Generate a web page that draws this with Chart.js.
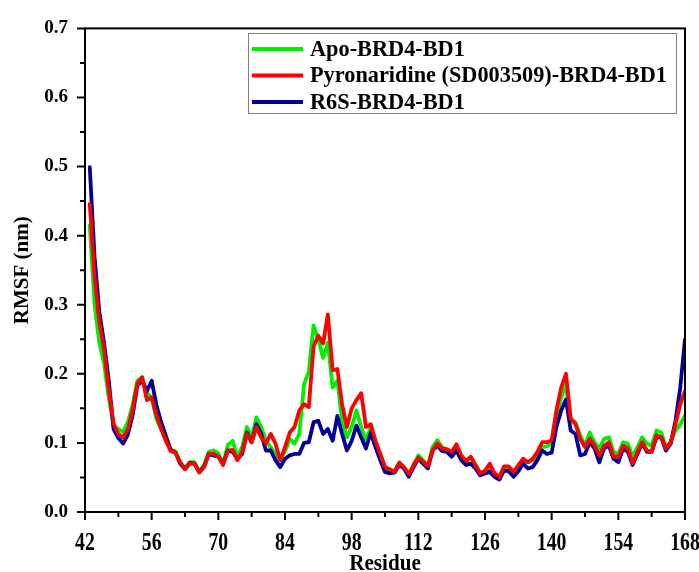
<!DOCTYPE html>
<html><head><meta charset="utf-8">
<script src="https://cdn.jsdelivr.net/npm/chart.js@4.4.1/dist/chart.umd.min.js"></script>
<style>html,body{margin:0;padding:0;background:#fff;} #wrap{width:699px;height:572px;}</style>
</head><body><div id="wrap"><canvas id="c" width="699" height="572"></canvas></div>
<script>
const residues = [43,44,45,46,47,48,49,50,51,52,53,54,55,56,57,58,59,60,61,62,63,64,65,66,67,68,69,70,71,72,73,74,75,76,77,78,79,80,81,82,83,84,85,86,87,88,89,90,91,92,93,94,95,96,97,98,99,100,101,102,103,104,105,106,107,108,109,110,111,112,113,114,115,116,117,118,119,120,121,122,123,124,125,126,127,128,129,130,131,132,133,134,135,136,137,138,139,140,141,142,143,144,145,146,147,148,149,150,151,152,153,154,155,156,157,158,159,160,161,162,163,164,165,166,167,168];
const apo = [0.415,0.300,0.245,0.215,0.165,0.125,0.120,0.116,0.130,0.155,0.190,0.195,0.172,0.165,0.135,0.120,0.103,0.090,0.088,0.072,0.063,0.072,0.072,0.058,0.068,0.087,0.089,0.085,0.070,0.097,0.103,0.080,0.094,0.123,0.108,0.137,0.123,0.103,0.094,0.084,0.075,0.088,0.106,0.099,0.113,0.185,0.204,0.270,0.250,0.223,0.245,0.180,0.190,0.132,0.108,0.123,0.147,0.123,0.103,0.123,0.099,0.084,0.065,0.060,0.058,0.072,0.065,0.053,0.068,0.082,0.075,0.067,0.094,0.104,0.094,0.090,0.084,0.096,0.080,0.070,0.080,0.068,0.056,0.058,0.065,0.053,0.048,0.063,0.064,0.053,0.065,0.077,0.072,0.075,0.082,0.094,0.095,0.100,0.135,0.166,0.183,0.135,0.130,0.111,0.096,0.115,0.101,0.092,0.106,0.108,0.087,0.084,0.101,0.099,0.080,0.094,0.108,0.099,0.096,0.118,0.115,0.094,0.101,0.118,0.127,0.140];
const pyronaridine = [0.446,0.340,0.275,0.235,0.175,0.128,0.113,0.108,0.120,0.148,0.186,0.195,0.162,0.166,0.140,0.120,0.103,0.088,0.086,0.072,0.062,0.070,0.070,0.057,0.065,0.084,0.084,0.080,0.068,0.089,0.090,0.075,0.087,0.113,0.101,0.123,0.108,0.099,0.113,0.099,0.075,0.094,0.115,0.123,0.147,0.156,0.152,0.240,0.255,0.244,0.286,0.205,0.207,0.155,0.123,0.150,0.162,0.172,0.123,0.127,0.103,0.084,0.065,0.062,0.058,0.071,0.065,0.055,0.068,0.079,0.073,0.066,0.089,0.099,0.092,0.091,0.087,0.098,0.082,0.074,0.080,0.068,0.056,0.060,0.070,0.056,0.051,0.066,0.066,0.058,0.068,0.077,0.072,0.077,0.087,0.101,0.101,0.104,0.147,0.180,0.200,0.135,0.127,0.106,0.094,0.106,0.096,0.082,0.096,0.101,0.080,0.080,0.096,0.092,0.070,0.087,0.101,0.089,0.087,0.111,0.108,0.092,0.101,0.127,0.156,0.175];
const r6s = [0.499,0.370,0.290,0.245,0.190,0.120,0.107,0.099,0.112,0.140,0.183,0.190,0.175,0.190,0.155,0.130,0.110,0.090,0.086,0.070,0.062,0.071,0.070,0.058,0.066,0.084,0.082,0.080,0.070,0.089,0.087,0.077,0.084,0.115,0.101,0.127,0.113,0.089,0.089,0.075,0.065,0.077,0.082,0.084,0.084,0.100,0.101,0.130,0.132,0.113,0.120,0.103,0.139,0.113,0.089,0.103,0.125,0.108,0.092,0.115,0.094,0.075,0.058,0.056,0.057,0.068,0.063,0.051,0.065,0.077,0.070,0.063,0.089,0.096,0.088,0.087,0.080,0.089,0.075,0.068,0.070,0.063,0.053,0.056,0.058,0.051,0.047,0.060,0.059,0.051,0.059,0.070,0.063,0.065,0.075,0.089,0.084,0.086,0.123,0.147,0.163,0.118,0.113,0.082,0.084,0.101,0.092,0.072,0.092,0.096,0.077,0.072,0.092,0.087,0.068,0.084,0.099,0.087,0.087,0.108,0.108,0.089,0.099,0.132,0.180,0.250];
const seriesNames = ['Apo-BRD4-BD1', 'Pyronaridine (SD003509)-BRD4-BD1', 'R6S-BRD4-BD1'];
const seriesColors = ['#00ee00', '#ff0000', '#000099'];
const xTicks = [42, 56, 70, 84, 98, 112, 126, 140, 154, 168];
const yTicks = [0.0, 0.1, 0.2, 0.3, 0.4, 0.5, 0.6, 0.7];
const xTitle = 'Residue';
const yTitle = 'RMSF (nm)';

const SERIF = '"Liberation Serif", "Times New Roman", serif';

function pts(vals) { return residues.map((r, i) => ({x: r, y: vals[i]})); }

// draws a text horizontally condensed (the reference x-axis texts are tall and narrow)
function condensedText(ctx, text, cx, baseY, size, sx) {
  ctx.save();
  ctx.font = 'bold ' + size + 'px ' + SERIF;
  ctx.textAlign = 'center';
  ctx.textBaseline = 'alphabetic';
  ctx.translate(cx, baseY);
  ctx.scale(sx, 1);
  ctx.fillStyle = '#000';
  ctx.fillText(text, 0, 0);
  ctx.restore();
}

const framePlugin = {
  id: 'frame',
  afterDraw(chart) {
    const {ctx, chartArea: a, scales: {x, y}} = chart;
    ctx.save();
    ctx.strokeStyle = '#000';
    ctx.lineWidth = 2;
    ctx.strokeRect(a.left, a.top, a.right - a.left, a.bottom - a.top);
    ctx.beginPath();
    for (let i = 0; i < xTicks.length; i++) {
      const px = x.getPixelForValue(xTicks[i]);
      ctx.moveTo(px, a.bottom); ctx.lineTo(px, a.bottom + 8);
      if (i < xTicks.length - 1) {
        const pm = x.getPixelForValue((xTicks[i] + xTicks[i + 1]) / 2);
        ctx.moveTo(pm, a.bottom); ctx.lineTo(pm, a.bottom + 5);
      }
    }
    for (let i = 0; i < yTicks.length; i++) {
      const py = y.getPixelForValue(yTicks[i]);
      ctx.moveTo(a.left, py); ctx.lineTo(a.left - 8, py);
      if (i < yTicks.length - 1) {
        const pm = y.getPixelForValue((yTicks[i] + yTicks[i + 1]) / 2);
        ctx.moveTo(a.left, pm); ctx.lineTo(a.left - 5, pm);
      }
    }
    ctx.stroke();

    // x tick labels and title (condensed like the reference)
    x.ticks.forEach(t => {
      condensedText(ctx, String(t.value), x.getPixelForValue(t.value), a.bottom + 38, 26, 0.76);
    });
    condensedText(ctx, xTitle, (a.left + a.right) / 2, 570, 24, 0.88);

    // legend box
    const bx = 248, by = 33, bw = 428, bh = 80;
    ctx.fillStyle = '#fff';
    ctx.fillRect(bx, by, bw, bh);
    ctx.strokeStyle = '#808080';
    ctx.lineWidth = 1;
    ctx.strokeRect(bx + 0.5, by + 0.5, bw, bh);
    ctx.font = 'bold 22.3px ' + SERIF;
    ctx.textBaseline = 'middle';
    ctx.textAlign = 'left';
    [0, 1, 2].forEach((idx, k) => {
      const ds = chart.data.datasets[idx];
      const yy = 49 + k * 26.5;
      ctx.strokeStyle = ds.borderColor;
      ctx.lineWidth = 4;
      ctx.beginPath();
      ctx.moveTo(252, yy); ctx.lineTo(303, yy);
      ctx.stroke();
      ctx.fillStyle = '#000';
      ctx.fillText(ds.label, 310, yy + 1);
    });
    ctx.restore();
  }
};

new Chart(document.getElementById('c'), {
  type: 'line',
  data: {
    datasets: [
      {label: seriesNames[0], data: pts(apo), borderColor: seriesColors[0], order: 2},
      {label: seriesNames[1], data: pts(pyronaridine), borderColor: seriesColors[1], order: 0},
      {label: seriesNames[2], data: pts(r6s), borderColor: seriesColors[2], order: 1}
    ]
  },
  options: {
    responsive: false,
    animation: false,
    elements: {
      line: {borderWidth: 3.8, tension: 0, borderJoinStyle: 'round', borderCapStyle: 'round'},
      point: {radius: 0}
    },
    layout: {padding: {top: 25, right: 14, left: 0, bottom: 0}},
    plugins: {legend: {display: false}, tooltip: {enabled: false}},
    scales: {
      x: {
        type: 'linear', min: 42, max: 168,
        afterBuildTicks: s => { s.ticks = xTicks.map(v => ({value: v})); },
        afterFit: s => { s.height = 60; s.paddingLeft = 0; s.paddingRight = 0; },
        grid: {display: false, drawTicks: false},
        border: {display: false},
        ticks: {display: false},
        title: {display: false, text: xTitle}
      },
      y: {
        type: 'linear', min: 0, max: 0.7,
        afterBuildTicks: s => { s.ticks = yTicks.map(v => ({value: v})); },
        afterFit: s => { s.width = 85; },
        grid: {display: false, drawTicks: false},
        border: {display: false},
        ticks: {color: '#000', padding: 17, callback: v => Number(v).toFixed(1),
                font: {family: SERIF, size: 19, weight: 'bold'}},
        title: {display: true, text: yTitle, color: '#000', padding: {top: 12, bottom: 0},
                font: {family: SERIF, size: 21, weight: 'bold', lineHeight: 1}}
      }
    }
  },
  plugins: [framePlugin]
});
</script>
</body></html>
